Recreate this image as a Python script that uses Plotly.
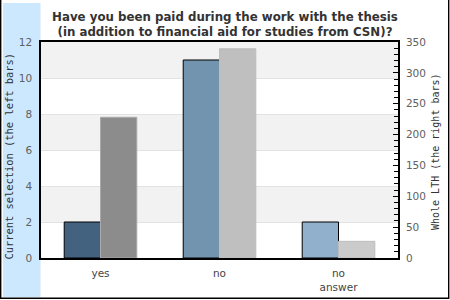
import plotly.graph_objects as go

categories = ["yes", "no", "no<br>answer"]
left_values = [2, 11, 2]          # Current selection
right_values = [228, 339, 27]     # Whole LTH
left_colors = ["#43627f", "#7394af", "#90b0cb"]
right_colors = ["#8c8c8c", "#bfbfbf", "#cbcbcb"]
right_line_colors = ["#a9a9a9", "#bdbdbd", "#bdbdbd"]

W, H = 450, 300
L, R, T, B = 41, 52, 42, 42
pw, ph = W - L - R, H - T - B

def px_x(x):
    return (x - L) / pw

def px_y(y):
    return (H - B - y) / ph

fig = go.Figure()
fig.add_trace(go.Bar(
    x=categories, y=left_values, yaxis="y",
    width=0.305, offset=-0.305,
    marker=dict(color=left_colors, line=dict(color="#000000", width=1)),
    showlegend=False,
))
fig.add_trace(go.Bar(
    x=categories, y=right_values, yaxis="y2",
    width=0.305, offset=0,
    marker=dict(color=right_colors, line=dict(color=right_line_colors, width=1)),
    showlegend=False,
))

shapes = []
for lo in [2, 6, 10]:
    shapes.append(dict(type="rect", xref="paper", yref="y", x0=0, x1=1, y0=lo, y1=lo + 2,
                       fillcolor="#f2f2f2", line=dict(width=0), layer="below"))
shapes.append(dict(type="rect", xref="paper", yref="paper",
                   x0=px_x(3), x1=px_x(40.5), y0=px_y(297), y1=px_y(3),
                   fillcolor="#cce8ff", line=dict(width=0), layer="below"))
for (x0, y0, x1, y1) in [(0.7, 0, 0.7, 298.3), (448.7, 0, 448.7, 298.3), (0, 298.3, 449.3, 298.3)]:
    shapes.append(dict(type="line", xref="paper", yref="paper",
                       x0=px_x(x0), x1=px_x(x1), y0=px_y(y0), y1=px_y(y1),
                       line=dict(color="#000000", width=1.4)))

fig.update_layout(
    width=W, height=H,
    margin=dict(l=L, r=R, t=T, b=B),
    paper_bgcolor="#ffffff", plot_bgcolor="#ffffff",
    barmode="overlay",
    font=dict(family="DejaVu Sans", size=10, color="#555555"),
    title=dict(
        text="<b>Have you been paid during the work with the thesis<br>(in addition to financial aid for studies from CSN)?</b>",
        x=0.5, xref="container", xanchor="center",
        y=1 - 20.5 / H, yref="container", yanchor="middle",
        font=dict(family="DejaVu Sans", size=11.8, color="#333333"),
    ),
    xaxis=dict(
        showgrid=False, showline=True, linecolor="#000000", linewidth=1.6, mirror=True,
        ticks="", tickfont=dict(size=10.5, color="#444444"), fixedrange=True,
        ticklabelstandoff=5, automargin=False,
    ),
    yaxis=dict(
        range=[0, 12], dtick=2, showgrid=True, gridcolor="#e2e2e2", gridwidth=1,
        showline=True, linecolor="#000000", linewidth=1.6, ticks="",
        zeroline=False, tickfont=dict(size=10.5, color="#606060"),
        ticklabelstandoff=5, automargin=False,
    ),
    yaxis2=dict(
        range=[0, 350], dtick=50, overlaying="y", side="right", showgrid=False,
        showline=True, linecolor="#000000", linewidth=1.6,
        ticks="inside", ticklen=5, tickcolor="#000000", tickwidth=1,
        minor=dict(dtick=10, ticks="inside", ticklen=4, tickcolor="#000000", tickwidth=1),
        zeroline=False, tickfont=dict(size=10.5, color="#606060"),
        ticklabelstandoff=4, automargin=False,
    ),
    shapes=shapes,
    annotations=[
        dict(text="Current selection (the left bars)", textangle=-90,
             xref="paper", yref="paper", x=px_x(8.5), y=px_y(157),
             xanchor="center", yanchor="middle", showarrow=False,
             font=dict(family="DejaVu Sans Mono", size=10.4, color="#333333")),
        dict(text="Whole LTH (the right bars)", textangle=-90,
             xref="paper", yref="paper", x=px_x(435), y=px_y(152),
             xanchor="center", yanchor="middle", showarrow=False,
             font=dict(family="DejaVu Sans Mono", size=10, color="#333333")),
    ],
)

fig.write_html("out.html")
